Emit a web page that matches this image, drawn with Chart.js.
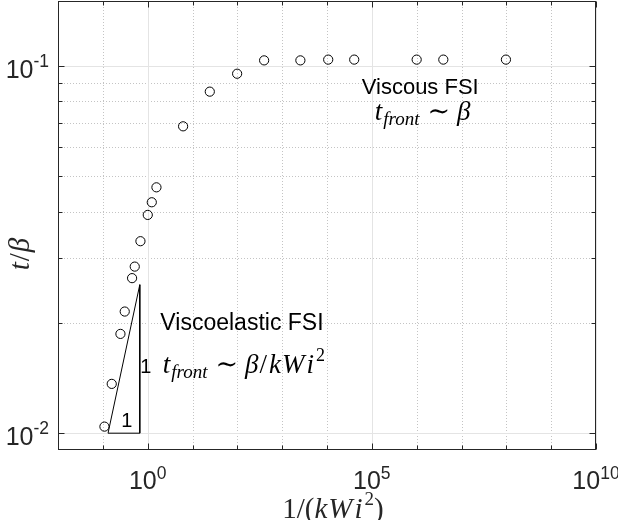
<!DOCTYPE html>
<html><head><meta charset="utf-8">
<script src="https://cdn.jsdelivr.net/npm/chart.js@4/dist/chart.umd.min.js"></script>
<style>html,body{margin:0;padding:0;background:#fff;} #wrap{width:618px;height:520px;position:relative;}</style>
</head><body><div id="wrap"><canvas id="c" width="618" height="520"></canvas></div>
<script>
// ---- data ----
const xValues = [0.1086, 0.158, 0.247, 0.308, 0.449, 0.515, 0.690, 1.005, 1.235, 1.57, 6.17, 24.3, 99, 396, 2548, 10640, 40460, 1.0e6, 3.93e6, 9.8e7];
const yValues = [0.01042, 0.01362, 0.01863, 0.02143, 0.02642, 0.0284, 0.0333, 0.03926, 0.0425, 0.04667, 0.0684, 0.085, 0.0951, 0.1034, 0.1034, 0.1039, 0.1039, 0.1039, 0.1039, 0.1039];
const slopeX = [0.1306, 0.667, 0.667, 0.1306];
const slopeY = [0.01, 0.02535, 0.01, 0.01];
const xDecadeExps = [-2, -1, 0, 1, 2, 3, 4, 5, 6, 7, 8, 9, 10];
const xLabelExps = [0, 5, 10];
const yLabelExps = [-2, -1];
const yMinorTicks = [0.02, 0.03, 0.04, 0.05, 0.06, 0.07, 0.08, 0.09];
const xRange = [1e-2, 1e10];
const yRange = [0.009, 0.15];

const SANS = '"Liberation Sans", Arial, sans-serif';
const SERIF = '"Liberation Serif", "DejaVu Serif", serif';
const AXC = '#262626';

function drawParts(ctx, parts, x, y, align) {
  let w = 0;
  parts.forEach(p => { ctx.font = p.font; p.w = ctx.measureText(p.t).width + (p.sp || 0); w += p.w; });
  let cx = align === 'center' ? x - w / 2 : (align === 'right' ? x - w : x);
  ctx.textAlign = 'left';
  ctx.textBaseline = 'alphabetic';
  parts.forEach(p => { ctx.font = p.font; ctx.fillText(p.t, cx + (p.pre || 0), y + (p.dy || 0)); cx += p.w; });
}
const it = s => 'italic ' + s + 'px ' + SERIF;
const up = s => s + 'px ' + SERIF;
const sans = s => s + 'px ' + SANS;

const annotations = [
  { x: 1.2e6, y: 0.0838, align: 'center', parts: [{ t: 'Viscous FSI', font: sans(22) }] },
  { x: 1.36e6, y: 0.0711, align: 'center', parts: [
    { t: 't', font: it(27), sp: 1 }, { t: 'front', font: it(19), dy: 5, sp: 1 },
    { t: '∼', font: up(27), sp: 14, pre: 7 }, { t: 'β', font: it(27) }] },
  { x: 1.92, y: 0.01903, align: 'left', parts: [{ t: 'Viscoelastic FSI', font: sans(23) }] },
  { x: 0.682, y: 0.01459, align: 'left', parts: [{ t: '1', font: sans(20) }] },
  { x: 2.166, y: 0.0146, align: 'left', parts: [
    { t: 't', font: it(27), sp: 1 }, { t: 'front', font: it(19), dy: 5, sp: 1 },
    { t: '∼', font: up(27), sp: 14, pre: 7 }, { t: 'β', font: it(27), sp: 1 }, { t: '/', font: up(27), sp: 2 },
    { t: 'k', font: it(27), sp: 1 }, { t: 'W', font: it(27), sp: 2 }, { t: 'i', font: it(27), sp: 2 }, { t: '2', font: up(18), dy: -12 }] },
  { x: 0.3407, y: 0.01041, align: 'center', parts: [{ t: '1', font: sans(20) }] }
];

const axesPlugin = {
  id: 'matlabAxes',
  beforeDatasetsDraw(chart) {
    const { ctx, chartArea: a, scales: { x, y } } = chart;
    ctx.save();
    ctx.lineWidth = 1;
    ctx.strokeStyle = '#c4c4c4';
    ctx.setLineDash([1, 2]);
    xDecadeExps.filter(e => !xLabelExps.includes(e)).forEach(e => {
      const px = Math.round(x.getPixelForValue(Math.pow(10, e))) + 0.5;
      ctx.beginPath(); ctx.moveTo(px, a.top); ctx.lineTo(px, a.bottom); ctx.stroke();
    });
    yMinorTicks.forEach(v => {
      const py = Math.round(y.getPixelForValue(v)) + 0.5;
      ctx.beginPath(); ctx.moveTo(a.left, py); ctx.lineTo(a.right, py); ctx.stroke();
    });
    ctx.setLineDash([]);
    ctx.strokeStyle = '#e4e4e4';
    xLabelExps.forEach(e => {
      const px = Math.round(x.getPixelForValue(Math.pow(10, e))) + 0.5;
      ctx.beginPath(); ctx.moveTo(px, a.top); ctx.lineTo(px, a.bottom); ctx.stroke();
    });
    yLabelExps.forEach(e => {
      const py = Math.round(y.getPixelForValue(Math.pow(10, e))) + 0.5;
      ctx.beginPath(); ctx.moveTo(a.left, py); ctx.lineTo(a.right, py); ctx.stroke();
    });
    ctx.restore();
  },
  afterDatasetsDraw(chart) {
    const { ctx, chartArea: a, scales: { x, y } } = chart;
    ctx.save();
    ctx.strokeStyle = AXC;
    ctx.lineWidth = 1;
    const L = Math.round(a.left) + 0.5, R = Math.round(a.right) - 0.5;
    const T = Math.round(a.top) + 0.5, B = Math.round(a.bottom) - 0.5;
    ctx.strokeRect(L, T, R - L, B - T);
    xDecadeExps.forEach(e => {
      const len = xLabelExps.includes(e) ? 6 : 4;
      const px = Math.round(x.getPixelForValue(Math.pow(10, e))) + 0.5;
      ctx.beginPath(); ctx.moveTo(px, B); ctx.lineTo(px, B - len); ctx.moveTo(px, T); ctx.lineTo(px, T + len); ctx.stroke();
    });
    const yt = yLabelExps.map(e => [Math.pow(10, e), 6]).concat(yMinorTicks.map(v => [v, 4]));
    yt.forEach(([v, len]) => {
      const py = Math.round(y.getPixelForValue(v)) + 0.5;
      ctx.beginPath(); ctx.moveTo(L, py); ctx.lineTo(L + len, py); ctx.moveTo(R, py); ctx.lineTo(R - len, py); ctx.stroke();
    });
    ctx.restore();
  },
  afterDraw(chart) {
    const { ctx, chartArea: a, scales: { x, y } } = chart;
    ctx.save();
    ctx.fillStyle = AXC;
    xLabelExps.forEach(e => {
      const px = x.getPixelForValue(Math.pow(10, e));
      drawParts(ctx, [{ t: '10', font: sans(25) }, { t: String(e), font: sans(17.5), dy: -10.5 }], px, a.bottom + 39, 'center');
    });
    yLabelExps.forEach(e => {
      const py = y.getPixelForValue(Math.pow(10, e));
      drawParts(ctx, [{ t: '10', font: sans(25) }, { t: String(e), font: sans(17.5), dy: -10.5 }], a.left - 9, py + 11.8, 'right');
    });
    ctx.fillStyle = '#000';
    annotations.forEach(an => {
      drawParts(ctx, an.parts, x.getPixelForValue(an.x), y.getPixelForValue(an.y), an.align);
    });
    ctx.fillStyle = AXC;
    drawParts(ctx, [{ t: '1/(', font: up(29) }, { t: 'k', font: it(29), sp: 1 }, { t: 'W', font: it(29), sp: 2 }, { t: 'i', font: it(29), sp: 2 }, { t: '2', font: up(19), dy: -13 }, { t: ')', font: up(29) }],
      333, 518, 'center');
    ctx.save();
    ctx.translate(29, 254);
    ctx.rotate(-Math.PI / 2);
    drawParts(ctx, [{ t: 't', font: it(29), sp: 1 }, { t: '/', font: up(29), sp: 1 }, { t: 'β', font: it(29) }], 0, 0, 'center');
    ctx.restore();
    ctx.restore();
  }
};

new Chart(document.getElementById('c'), {
  type: 'scatter',
  data: {
    datasets: [
      {
        label: 'slope',
        data: slopeX.map((v, i) => ({ x: v, y: slopeY[i] })),
        showLine: true, borderColor: '#000', borderWidth: 1, pointRadius: 0, fill: false, tension: 0
      },
      {
        label: 't/beta',
        data: xValues.map((v, i) => ({ x: v, y: yValues[i] })),
        pointStyle: 'circle', pointRadius: 4.6, borderWidth: 1,
        borderColor: '#000', backgroundColor: 'rgba(0,0,0,0)', showLine: false
      }
    ]
  },
  options: {
    responsive: false, animation: false, devicePixelRatio: 1,
    layout: { autoPadding: false, padding: { left: 58, right: 22, top: 1, bottom: 70 } },
    plugins: { legend: { display: false }, tooltip: { enabled: false } },
    scales: {
      x: { display: false, type: 'logarithmic', min: xRange[0], max: xRange[1] },
      y: { display: false, type: 'logarithmic', min: yRange[0], max: yRange[1] }
    }
  },
  plugins: [axesPlugin]
});
</script></body></html>
